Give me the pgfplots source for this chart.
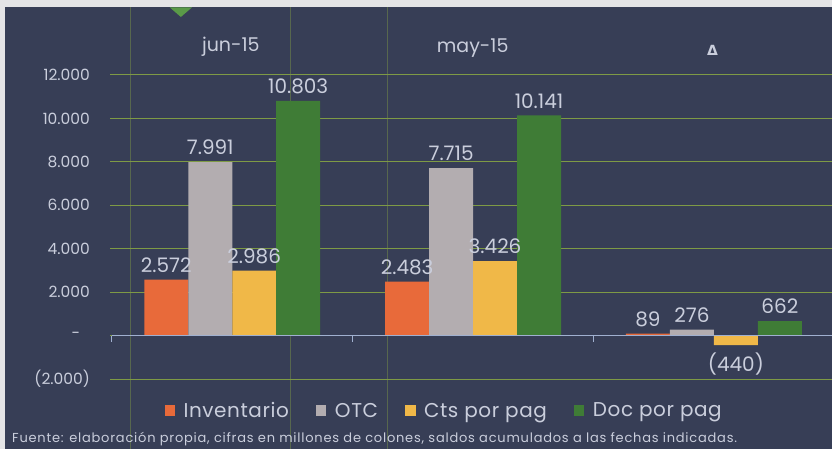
\documentclass[border=0pt]{standalone}
\usepackage{pgfplots}
\pgfplotsset{compat=1.18}
\usepackage{fontspec}
\setmainfont{Poppins}
\newfontfamily\footfont{Poppins}[LetterSpace=6]
\newfontfamily\legfont{Poppins}[LetterSpace=3]
\newfontfamily\dejavu{DejaVu Sans}

\definecolor{bgc}{HTML}{373E56}
\definecolor{borderc}{HTML}{E4E4E6}
\definecolor{orangec}{HTML}{E86A3A}
\definecolor{grayc}{HTML}{B3ADB0}
\definecolor{yellowc}{HTML}{F0B848}
\definecolor{greenc}{HTML}{3F7C36}
\definecolor{gridc}{HTML}{7E9A45}
\definecolor{zeroc}{HTML}{A0B0D0}
\definecolor{txtc}{HTML}{CACEDC}
\definecolor{tric}{HTML}{5A9A48}

\begin{document}
\begin{tikzpicture}[x=1pt,y=1pt]
  % fondo (coordenadas en pixeles, y invertida: 449 - y)
  \fill[borderc] (0,0) rectangle (833,449);
  \fill[bgc] (5,0) rectangle (833,441.5);
  \fill[tric] (170,441.5) -- (192,441.5) -- (181,432) -- cycle;
  % lineas verticales tenues del original
  \foreach \xx in {130,291,388}
    \draw[gridc, opacity=0.45, line width=0.8pt] (\xx,0) -- (\xx,441.5);

  \begin{axis}[
      at={(110pt,69.7pt)}, anchor=south west,
      scale only axis,
      width=723pt, height=304.3pt,
      xmin=-0.508, xmax=2.492,
      ymin=-2000, ymax=12000,
      enlargelimits=false,
      clip=false,
      ybar=0pt, bar width=44pt,
      axis line style={draw=none},
      major tick length=0pt,
      xtick=\empty,
      scaled y ticks=false,
      ytick={-2000,0,2000,4000,6000,8000,10000,12000},
      yticklabels={(2.000),-\hphantom{0},2.000,4.000,6.000,8.000,10.000,12.000},
      yticklabel style={font=\fontsize{15.5}{18}\selectfont, text=txtc, xshift=-16.5pt},
      ymajorgrids,
      grid style={gridc, line width=0.9pt},
      point meta=explicit symbolic,
      visualization depends on={y \as \rawy},
      nodes near coords,
      every node near coord/.append style={font=\fontsize{20}{24}\selectfont, text=txtc, inner ysep=7pt,
        /utils/exec={\ifdim\rawy pt<0pt \def\myanch{north}\else\def\myanch{south}\fi},
        anchor=\myanch},
      sqleg/.style={legend image code/.code={\fill[##1, draw=none] (0pt,-5pt) rectangle (10.5pt,5.5pt);}},
      legend columns=4,
      legend style={at={(0.4633,-0.1042)}, anchor=center, draw=none, fill=none,
        font=\legfont\fontsize{20}{24}\selectfont, text=txtc,
        nodes={inner xsep=3pt},
        /tikz/every odd column/.append style={column sep=5.5pt},
        /tikz/every even column/.append style={column sep=24pt}},
    ]
    \addplot[fill=orangec, draw=none, sqleg] coordinates {(0,2572) [2.572] (1,2483) [2.483] (2,89) [89]};
    \addplot[fill=grayc, draw=none, sqleg] coordinates {(0,7991) [7.991] (1,7715) [7.715] (2,276) [276]};
    \addplot[fill=yellowc, draw=none, sqleg] coordinates {(0,2986) [2.986] (1,3426) [3.426] (2,-440) [(440)]};
    \addplot[fill=greenc, draw=none, sqleg] coordinates {(0,10803) [10.803] (1,10141) [10.141] (2,662) [662]};
    \legend{Inventario, OTC, Cts por pag, Doc por pag}

    % eje en cero con marcas entre categorias
    \draw[zeroc, line width=1.2pt] (axis cs:-0.5,0) -- (axis cs:2.492,0);
    \draw[zeroc, line width=1.2pt] (axis cs:-0.5,0) -- ([yshift=-6pt]axis cs:-0.5,0);
    \draw[zeroc, line width=1.2pt] (axis cs:0.5,0) -- ([yshift=-6pt]axis cs:0.5,0);
    \draw[zeroc, line width=1.2pt] (axis cs:1.5,0) -- ([yshift=-6pt]axis cs:1.5,0);
  \end{axis}

  % categorias arriba
  \node[text=txtc, font=\fontsize{19}{22}\selectfont] at (231,402) {jun-15};
  \node[text=txtc, font=\fontsize{19}{22}\selectfont] at (473,401) {may-15};
  \node[text=txtc, font=\dejavu\bfseries\fontsize{14}{16}\selectfont] at (713,399) {Δ};

  % fuente
  \node[anchor=west, text=txtc, font=\footfont\fontsize{13}{15}\selectfont, inner sep=0pt] at (12,9.5)
    {Fuente: elaboración propia, cifras en millones de colones, saldos acumulados a las fechas indicadas.};
\end{tikzpicture}
\end{document}
